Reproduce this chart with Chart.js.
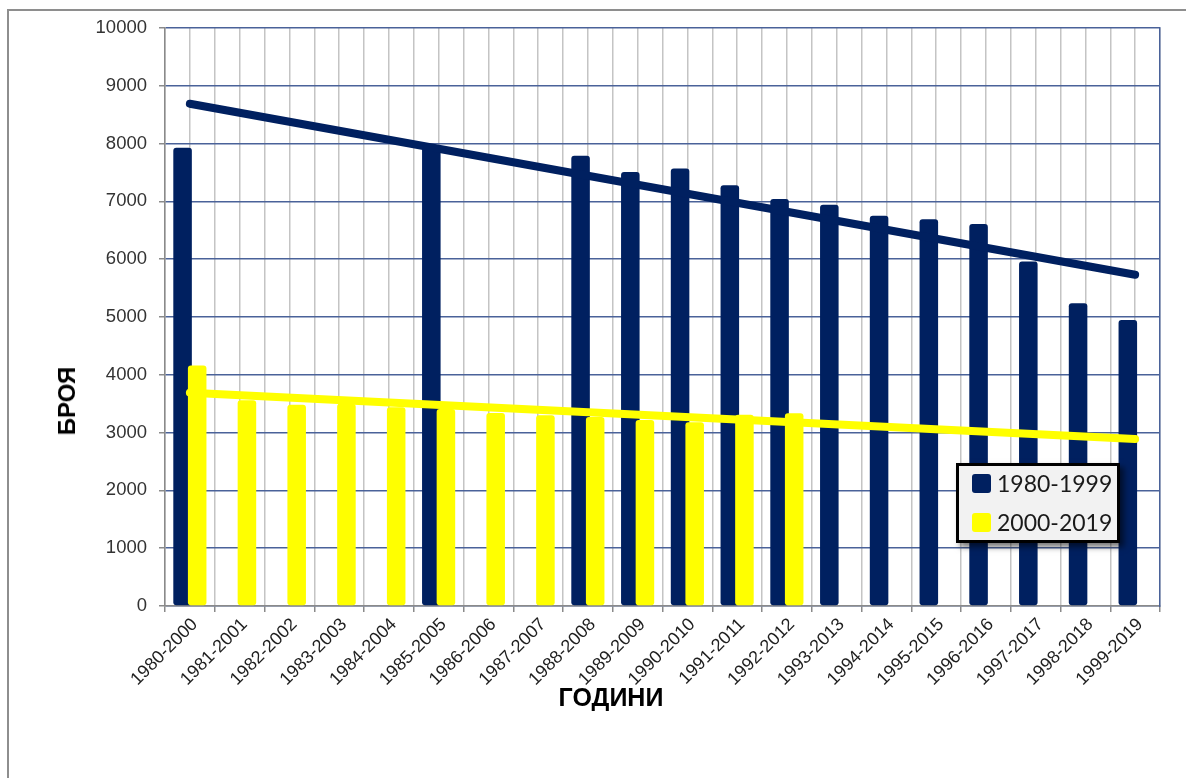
<!DOCTYPE html>
<html>
<head>
<meta charset="utf-8">
<title>БРОЯ по години</title>
<script src="https://cdn.jsdelivr.net/npm/chart.js@4.4.1/dist/chart.umd.min.js"></script>
<style>
  html, body { margin: 0; padding: 0; background: #ffffff; overflow: hidden; }
  #wrap { position: relative; width: 1186px; height: 778px; overflow: hidden; }
  #frame {
    position: absolute; left: 7px; top: 9px; width: 1260px; height: 860px;
    border: 2px solid #8e8e8e; box-sizing: border-box;
  }
  #chart { position: absolute; left: 0; top: 0; }
  .axis-title {
    position: absolute; white-space: nowrap; color: #000;
    font-family: 'Liberation Sans', Arial, sans-serif; font-weight: bold;
  }
  #ytitle { left: 67px; top: 401px; font-size: 24px; transform: translate(-50%, -50%) rotate(-90deg); }
  #xtitle { left: 611px; top: 697px; font-size: 25px; transform: translate(-50%, -50%); }
  #legend {
    position: absolute; left: 956px; top: 463px; width: 164px; height: 80px;
    box-sizing: border-box; border: 3px solid #000; background: #f2f2f2;
    box-shadow: 4px 4px 6px rgba(0, 0, 0, 0.55);
    font-family: Lato, 'Open Sans', sans-serif; font-size: 23px; color: #1a1a1a;
  }
  .legend-item { position: absolute; left: 13px; height: 26px; display: flex; align-items: center; }
  .legend-swatch { width: 19px; height: 19px; border-radius: 3px; margin-right: 6px; }
</style>
</head>
<body>
<div id="wrap">
  <div id="frame"></div>
  <canvas id="chart" width="1186" height="778"></canvas>
  <div class="axis-title" id="ytitle">БРОЯ</div>
  <div class="axis-title" id="xtitle">ГОДИНИ</div>
  <div id="legend"></div>
</div>
<script>
// Category labels (paired years)
const categories = [
  '1980-2000', '1981-2001', '1982-2002', '1983-2003', '1984-2004',
  '1985-2005', '1986-2006', '1987-2007', '1988-2008', '1989-2009',
  '1990-2010', '1991-2011', '1992-2012', '1993-2013', '1994-2014',
  '1995-2015', '1996-2016', '1997-2017', '1998-2018', '1999-2019'
];

// Counts for the first year of each pair (1980-1999); gaps are missing years
const counts1980s = [
  7930, null, null, null, null,
  7940, null, null, 7790, 7510,
  7570, 7280, 7040, 6940, 6750,
  6690, 6610, 5960, 5240, 4950
];

// Counts for the second year of each pair (2000-2019)
const counts2000s = [
  4160, 3560, 3480, 3500, 3440,
  3410, 3340, 3300, 3270, 3220,
  3180, 3310, 3335, null, null,
  null, null, null, null, null
];

// Linear trend lines: value at the first and at the last category
const trend1980s = [8690, 5730];
const trend2000s = [3690, 2890];

// Value axis tick labels
const yTicks = [0, 1000, 2000, 3000, 4000, 5000, 6000, 7000, 8000, 9000, 10000];

const NAVY = '#002060';
const YELLOW = '#ffff00';
const GRID_BLUE = '#4a6299';
const GRID_GRAY = '#c4c4c4';
const AXIS_GRAY = '#8a8a8a';

const trendPoints = (pair) => [
  { x: categories[0], y: pair[0] },
  { x: categories[categories.length - 1], y: pair[1] }
];

// The 2000-2019 bars sit to the right of the 1980-1999 bars but are painted over them,
// so they are drawn right after the 1980-1999 bars instead of before.
const barLayering = {
  id: 'barLayering',
  beforeDatasetDraw(chart, args) {
    if (args.index === 1 && !args.meta._layered) return false;
  },
  afterDatasetDraw(chart, args) {
    if (args.index === 0) {
      const meta = chart.getDatasetMeta(1);
      meta._layered = true;
      meta.controller.draw();
      meta._layered = false;
    }
  }
};

const chart = new Chart(document.getElementById('chart'), {
  type: 'bar',
  data: {
    labels: categories,
    datasets: [
      {
        type: 'bar', label: '1980-1999', data: counts1980s,
        backgroundColor: NAVY, borderRadius: 3, borderSkipped: false,
        categoryPercentage: 0.587, barPercentage: 1.27, order: 0
      },
      {
        type: 'bar', label: '2000-2019', data: counts2000s,
        backgroundColor: YELLOW, borderRadius: 3, borderSkipped: false,
        categoryPercentage: 0.587, barPercentage: 1.27, order: 1
      },
      {
        type: 'line', label: 'Тренд 1980-1999', data: trendPoints(trend1980s),
        borderColor: NAVY, borderWidth: 8, borderCapStyle: 'round',
        pointRadius: 0, spanGaps: true, tension: 0, order: -1
      },
      {
        type: 'line', label: 'Тренд 2000-2019', data: trendPoints(trend2000s),
        borderColor: YELLOW, borderWidth: 8, borderCapStyle: 'round',
        pointRadius: 0, spanGaps: true, tension: 0, order: -2
      }
    ]
  },
  options: {
    responsive: false,
    animation: false,
    events: [],
    layout: { padding: { left: 0, top: 28, right: 26, bottom: 62 } },
    plugins: {
      legend: { display: false },
      tooltip: { enabled: false },
      title: { display: false }
    },
    scales: {
      x: {
        type: 'category', offset: true, position: 'bottom',
        grid: { offset: true, color: GRID_GRAY, lineWidth: 1.5, tickColor: AXIS_GRAY, tickLength: 6 },
        border: { color: AXIS_GRAY, width: 1.5 },
        ticks: {
          autoSkip: false, minRotation: 45, maxRotation: 45, padding: 2, labelOffset: 5,
          color: '#1e1e1e', font: { family: "'Liberation Sans', Arial, sans-serif", size: 18 }
        },
        afterFit(scale) { scale.height = 110; }
      },
      xCenters: {
        type: 'category', labels: categories, offset: true, position: 'bottom',
        grid: { offset: false, color: GRID_GRAY, lineWidth: 1.5, drawTicks: false },
        border: { display: false },
        ticks: { display: false },
        afterFit(scale) { scale.height = 0; }
      },
      y: {
        type: 'linear', min: 0, max: 10000, position: 'left',
        afterBuildTicks(scale) { scale.ticks = yTicks.map(v => ({ value: v })); },
        grid: { color: GRID_BLUE, lineWidth: 1.5, tickColor: AXIS_GRAY, tickLength: 6 },
        border: { color: AXIS_GRAY, width: 1.5 },
        ticks: {
          padding: 12, color: '#333',
          font: { family: "'Liberation Sans', Arial, sans-serif", size: 18.5 },
          callback: (value) => String(value)
        },
        afterFit(scale) { scale.width = 165; }
      },
      yRight: {
        type: 'linear', position: 'right',
        grid: { display: false },
        ticks: { display: false },
        border: { color: GRID_BLUE, width: 1.5 },
        afterFit(scale) { scale.width = 0; }
      }
    }
  },
  plugins: [barLayering]
});

// Legend built from the bar datasets
const legendBox = document.getElementById('legend');
chart.data.datasets.filter(ds => ds.type === 'bar').forEach((ds, i) => {
  const item = document.createElement('div');
  item.className = 'legend-item';
  item.style.top = (4 + i * 39) + 'px';
  const sw = document.createElement('span');
  sw.className = 'legend-swatch';
  sw.style.background = ds.backgroundColor;
  const txt = document.createElement('span');
  txt.textContent = ds.label;
  item.appendChild(sw);
  item.appendChild(txt);
  legendBox.appendChild(item);
});
</script>
</body>
</html>
